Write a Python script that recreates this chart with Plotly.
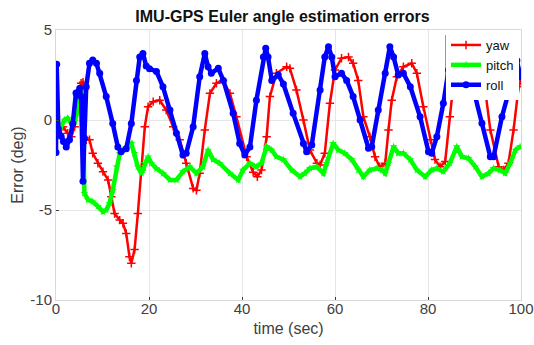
import plotly.graph_objects as go

# ---- data ----
roll_t = [0, 0.15, 0.5, 1.1, 1.6, 2.2, 2.9, 3.6, 4.3, 5.1, 5.4, 5.8, 6.1, 6.5, 7.2, 7.9, 8.7, 9.4,
          10.8, 12.2, 13.3, 14.0, 15.1, 16.2, 17.3, 18.0, 18.7, 19.4, 20.1, 21.6, 23.0, 24.5, 25.9,
          27.3, 28.0, 29.5, 30.9, 32.0, 32.7, 33.4, 34.9, 36.0, 38.1, 39.5, 40.6, 41.7, 43.1, 44.6,
          45.1, 45.6, 46.4, 47.8, 48.9, 51.0, 53.2, 53.9, 55.0, 56.8, 57.8, 58.6, 59.3, 60.0, 61.4,
          62.5, 63.9, 65.4, 67.2, 67.9, 69.3, 70.8, 71.8, 72.6, 73.6, 74.7, 76.2, 78.3, 80.1, 80.8,
          81.9, 83.3, 84.4, 85.1, 85.6, 86.5, 87.5, 88.5, 89.8, 91.6, 93.4, 94.1, 95.9, 97.3, 98.3,
          99.1, 99.9]
roll_v = [-1.8, 3.1, -0.5, -0.9, -1.2, -1.5, -1.1, -0.2, 1.5, 1.76, 1.3, -3.4, -1.0, 1.85, 3.15, 3.33,
          3.15, 2.6, 1.3, -0.2, -1.5, -1.76, -1.6, -0.2, 2.2, 3.5, 3.7, 3.0, 2.85, 2.7, 1.85, 0.55,
          -0.74, -1.95, -1.85, -0.37, 2.4, 3.7, 2.96, 2.6, 2.87, 2.2, 0.37, -1.3, -1.95, -1.5, 1.1,
          3.5, 3.98, 3.5, 2.2, 2.5, 2.0, 0.37, -1.3, -1.76, -1.39, 1.67, 3.5, 4.07, 3.5, 2.4, 2.6,
          2.2, 1.3, 0.0, -1.57, -1.48, 0.55, 2.6, 4.07, 3.5, 2.5, 2.6, 1.85, 0.18, -1.76, -1.85,
          -0.93, 0.93, 2.78, 3.9, 3.5, 2.5, 2.6, 2.3, 1.67, -0.18, -2.04, -2.04, 0.18, 1.5, 2.6,
          3.3, 2.4]

yaw_t = [0, 0.4, 1.5, 2.5, 3.3, 4.0, 4.7, 5.4, 5.8, 6.2, 6.5, 7.2, 7.9, 9.0, 10.1, 11.2, 11.9, 12.6,
         13.7, 14.4, 15.1, 15.8, 16.2, 16.9, 17.6, 18.4, 19.1, 19.8, 20.9, 22.3, 23.7, 25.2, 26.6,
         28.0, 29.5, 30.2, 30.9, 32.0, 33.1, 34.5, 35.9, 37.4, 38.8, 41.0, 42.4, 43.3, 44.2, 45.3,
         46.0, 47.4, 49.6, 50.3, 51.7, 53.2, 54.6, 56.1, 56.8, 57.8, 58.9, 60.0, 61.4, 62.9, 63.9,
         65.0, 66.1, 67.5, 68.6, 69.6, 70.8, 71.5, 72.2, 73.3, 74.7, 76.5, 77.6, 79.0, 80.5, 81.5,
         82.6, 83.7, 84.7, 85.8, 87.0, 88.5, 90.5, 92.3, 93.4, 95.2, 96.3, 97.3, 98.4, 99.5, 100]
yaw_v = [0.18, -0.2, -0.37, -0.74, -0.93, -0.37, 1.3, 2.04, 2.1, -1.0, -1.1, -1.1, -1.85, -2.4, -2.87,
         -3.33, -4.26, -5.2, -5.56, -5.74, -6.3, -7.6, -7.96, -7.2, -5.2, -2.78, -0.37, 0.74, 1.02,
         1.1, 0.55, -0.37, -1.1, -2.4, -3.8, -3.9, -2.96, -0.55, 1.48, 2.04, 2.2, 1.48, 0.18, -2.04,
         -2.9, -3.15, -2.78, -0.93, 1.3, 2.6, 2.96, 2.87, 1.67, 0.0, -1.67, -2.4, -2.5, -1.85, 0.93,
         2.78, 3.43, 3.5, 3.15, 2.2, 0.18, -0.93, -2.04, -2.6, -2.4, -0.55, 1.1, 2.4, 2.96, 3.15,
         2.6, 0.74, -1.1, -2.2, -2.6, -2.3, 0.18, 2.78, 3.2, 3.3, 2.9, 1.67, -0.55, -2.6, -2.78,
         -2.4, -0.55, 1.85, 2.2]

pitch_t = [0, 0.75, 1.8, 2.5, 3.3, 4.0, 4.7, 5.4, 5.8, 6.1, 6.9, 7.9, 9.0, 10.1, 10.8, 11.5, 12.2,
           13.0, 13.7, 14.4, 15.5, 16.2, 16.9, 17.6, 18.4, 19.1, 19.8, 20.5, 21.6, 23.0, 24.5, 25.9,
           27.3, 28.8, 30.2, 31.6, 32.7, 33.8, 35.2, 37.4, 39.2, 40.2, 41.7, 43.1, 44.2, 45.3, 46.4,
           47.4, 48.9, 50.7, 52.5, 53.5, 54.6, 56.1, 57.5, 58.2, 59.6, 60.7, 62.1, 63.6, 65.0, 66.1,
           67.5, 69.0, 70.1, 70.8, 71.5, 72.6, 73.6, 74.7, 76.2, 77.6, 79.4, 80.8, 81.9, 83.3, 84.7,
           86.2, 87.3, 88.7, 90.2, 91.6, 93.0, 94.1, 95.5, 96.6, 97.7, 98.8, 99.8]
pitch_v = [-0.2, -0.55, 0.0, 0.1, -0.18, -0.1, 0.55, 1.67, 1.3, -4.07, -4.44, -4.54, -4.8, -5.1, -5.0,
           -4.63, -3.9, -2.6, -1.85, -1.67, -1.39, -1.3, -1.85, -2.6, -2.96, -2.4, -2.04, -2.4, -2.7,
           -2.96, -3.33, -3.33, -2.87, -2.6, -2.96, -2.6, -1.67, -2.2, -2.4, -2.96, -3.33, -2.78, -2.4,
           -2.6, -2.4, -1.48, -1.67, -2.04, -2.2, -2.78, -3.15, -2.96, -2.69, -2.6, -2.96, -2.4, -1.3,
           -1.67, -1.85, -2.2, -2.78, -3.15, -2.78, -2.69, -2.78, -2.96, -2.4, -1.48, -1.85, -1.85,
           -2.2, -2.78, -3.15, -2.78, -2.69, -2.87, -2.4, -1.48, -2.04, -2.13, -2.6, -3.15, -2.96,
           -2.69, -2.78, -2.96, -2.4, -1.67, -1.48]

x_ticks = [0, 20, 40, 60, 80, 100]
y_ticks = [-10, -5, 0, 5]

FONT = "Liberation Sans, Arial, sans-serif"

fig = go.Figure()
fig.add_trace(go.Scatter(x=yaw_t, y=yaw_v, name="yaw", mode="lines+markers",
                         line=dict(color="#ff0000", width=2.5),
                         marker=dict(symbol="cross-thin", size=6, color="#ff0000",
                                     line=dict(color="#ff0000", width=1.5))))
fig.add_trace(go.Scatter(x=pitch_t, y=pitch_v, name="pitch", mode="lines+markers",
                         line=dict(color="#00ff00", width=4.5),
                         marker=dict(symbol="star", size=6, color="#00ff00")))
fig.add_trace(go.Scatter(x=roll_t, y=roll_v, name="roll", mode="lines+markers",
                         line=dict(color="#0000ff", width=4.5),
                         marker=dict(symbol="circle", size=7, color="#0000ff")))

axis_common = dict(showgrid=True, gridcolor="#e6e6e6", gridwidth=1,
                   showline=True, linecolor="#d9d9d9", linewidth=1, mirror=True,
                   ticks="inside", ticklen=3, tickcolor="#404040", automargin=False,
                   zeroline=False, tickfont=dict(family=FONT, size=15, color="#404040"))

fig.update_xaxes(range=[0, 100], tickvals=x_ticks, ticktext=[str(v) for v in x_ticks],
                 ticklabelstandoff=-5,
                 title=dict(text="time (sec)", font=dict(family=FONT, size=16, color="#404040"),
                            standoff=6),
                 **axis_common)
fig.update_yaxes(range=[-10, 5], tickvals=y_ticks, ticktext=[str(v) for v in y_ticks],
                 title=dict(text="Error (deg)", font=dict(family=FONT, size=16, color="#404040"),
                            standoff=2),
                 **axis_common)

W, H = 534, 345
L, R, T, B = 56, 13, 30, 45
PW = W - L - R
PH = H - T - B
LEG_X = (446 - L) / PW
fig.update_layout(
    width=W, height=H,
    margin=dict(l=L, r=R, t=T, b=B),
    paper_bgcolor="white", plot_bgcolor="white",
    title=dict(text="<b>IMU-GPS Euler angle estimation errors</b>", x=282.5 / W, xanchor="center",
               y=1 - 16.5 / H, yanchor="middle", font=dict(family=FONT, size=16, color="#111111")),
    legend=dict(x=LEG_X, xanchor="left", y=1.0, yanchor="top", bgcolor="white",
                borderwidth=0, font=dict(family=FONT, size=13, color="#111111"),
                itemwidth=30, tracegroupgap=0),
    showlegend=True,
    hovermode=False,
    shapes=[dict(type="line", xref="paper", yref="paper", x0=LEG_X, x1=LEG_X,
                 y0=1 - 5 / PH, y1=1 - 63 / PH,
                 line=dict(color="#333333", width=1), layer="above")],
)

# remove the default page margin so the 534x345 figure fills the window exactly
fig.write_html("out.html",
               config={"displayModeBar": False, "staticPlot": True},
               post_script="document.body.style.margin='0px';document.body.style.overflow='hidden';")
